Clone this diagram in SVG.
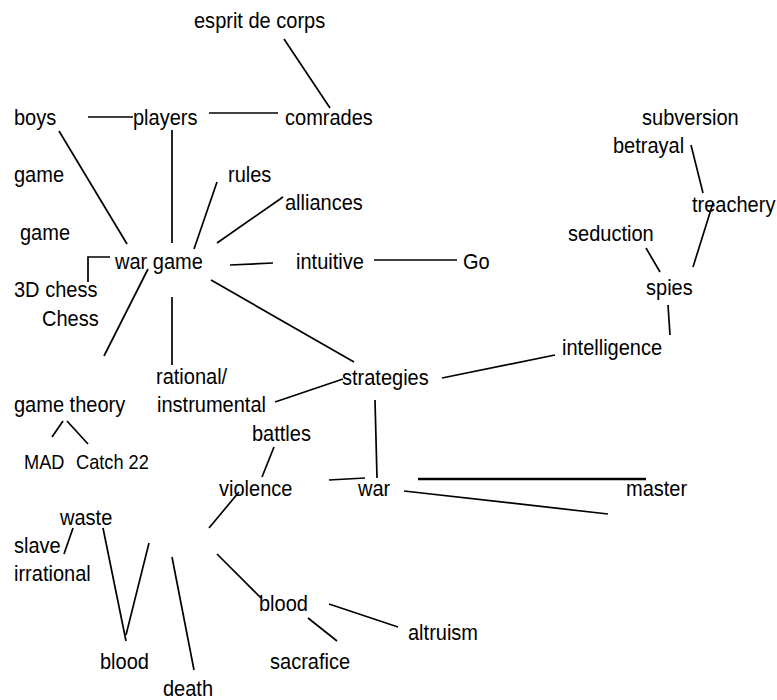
<svg xmlns="http://www.w3.org/2000/svg" width="777" height="700" viewBox="0 0 777 700">
<style>
text{font-family:"Liberation Sans",Arial,sans-serif;font-size:22px;fill:#000}
.s{font-size:20px}
#connectors line,#connectors polyline{stroke:#000;stroke-width:1.7;fill:none}
#connectors .t{stroke-width:2.4}
</style>
<rect width="777" height="700" fill="#fff"/>
<g id="connectors">
<line x1="284" y1="39" x2="330" y2="108"/>
<line x1="88" y1="117" x2="133" y2="117"/>
<line x1="209" y1="113" x2="278" y2="113"/>
<line x1="59" y1="131" x2="127" y2="244"/>
<line x1="172" y1="130" x2="172" y2="243"/>
<line x1="217" y1="182" x2="194" y2="249"/>
<line x1="283" y1="197" x2="217" y2="243"/>
<polyline points="110,257 88,257 88,282"/>
<line x1="230" y1="265" x2="273" y2="263"/>
<line x1="374" y1="260" x2="457" y2="260"/>
<line x1="148" y1="269" x2="104" y2="356"/>
<line x1="172" y1="297" x2="172" y2="365"/>
<line x1="211" y1="280" x2="354" y2="362"/>
<line x1="275" y1="402" x2="343" y2="379"/>
<line x1="442" y1="378" x2="555" y2="355"/>
<line x1="375" y1="400" x2="377" y2="478"/>
<line x1="274" y1="447" x2="262" y2="477"/>
<line x1="329" y1="480" x2="365" y2="478"/>
<line class="t" x1="418" y1="479" x2="646" y2="479"/>
<line x1="404" y1="491" x2="608" y2="514"/>
<line x1="239" y1="492" x2="209" y2="528"/>
<line x1="73" y1="528" x2="64" y2="554"/>
<line x1="103" y1="528" x2="126" y2="641"/>
<line x1="149" y1="543" x2="126" y2="635"/>
<line x1="172" y1="557" x2="194" y2="670"/>
<line x1="217" y1="554" x2="261" y2="598"/>
<line x1="308" y1="618" x2="337" y2="641"/>
<line x1="329" y1="604" x2="398" y2="627"/>
<line x1="63" y1="421" x2="52" y2="437"/>
<line x1="67" y1="421" x2="88" y2="444"/>
<line x1="691" y1="145" x2="703" y2="193"/>
<line x1="713" y1="203" x2="693" y2="267"/>
<line x1="646" y1="248" x2="660" y2="272"/>
<line x1="668" y1="305" x2="670" y2="335"/>
</g>
<g id="n-esprit"><text transform="translate(194,28) scale(0.91,1)">esprit de corps</text></g>
<g id="n-boys"><text transform="translate(14,125) scale(0.91,1)">boys</text></g>
<g id="n-players"><text transform="translate(133,125) scale(0.91,1)">players</text></g>
<g id="n-comrades"><text transform="translate(285,125) scale(0.91,1)">comrades</text></g>
<g id="n-game1"><text transform="translate(14,182) scale(0.91,1)">game</text></g>
<g id="n-rules"><text transform="translate(228,182) scale(0.91,1)">rules</text></g>
<g id="n-alliances"><text transform="translate(285,210) scale(0.91,1)">alliances</text></g>
<g id="n-game2"><text transform="translate(20,240) scale(0.91,1)">game</text></g>
<g id="n-wargame"><text transform="translate(115,269) scale(0.91,1)">war game</text></g>
<g id="n-intuitive"><text transform="translate(296,269) scale(0.91,1)">intuitive</text></g>
<g id="n-go"><text transform="translate(463,269) scale(0.91,1)">Go</text></g>
<g id="n-3dchess"><text transform="translate(14,297) scale(0.91,1)">3D chess</text></g>
<g id="n-chess"><text transform="translate(42,326) scale(0.91,1)">Chess</text></g>
<g id="n-subversion"><text transform="translate(642,125) scale(0.91,1)">subversion</text></g>
<g id="n-betrayal"><text transform="translate(613,153) scale(0.91,1)">betrayal</text></g>
<g id="n-treachery"><text transform="translate(692,212) scale(0.91,1)">treachery</text></g>
<g id="n-seduction"><text transform="translate(568,241) scale(0.91,1)">seduction</text></g>
<g id="n-spies"><text transform="translate(646,295) scale(0.91,1)">spies</text></g>
<g id="n-intelligence"><text transform="translate(562,355) scale(0.91,1)">intelligence</text></g>
<g id="n-strategies"><text transform="translate(342,385) scale(0.91,1)">strategies</text></g>
<g id="n-rational"><text transform="translate(156,384) scale(0.91,1)">rational/</text><text transform="translate(157,412) scale(0.91,1)">instrumental</text></g>
<g id="n-gametheory"><text transform="translate(14,412) scale(0.91,1)">game theory</text></g>
<g id="n-battles"><text transform="translate(252,441) scale(0.91,1)">battles</text></g>
<g id="n-mad"><text class="s" transform="translate(24,469) scale(0.91,1)">MAD</text></g>
<g id="n-catch22"><text class="s" transform="translate(76,469) scale(0.91,1)">Catch 22</text></g>
<g id="n-violence"><text transform="translate(219,496) scale(0.91,1)">violence</text></g>
<g id="n-war"><text transform="translate(358,496) scale(0.91,1)">war</text></g>
<g id="n-master"><text transform="translate(626,496) scale(0.91,1)">master</text></g>
<g id="n-waste"><text transform="translate(60,525) scale(0.91,1)">waste</text></g>
<g id="n-slave"><text transform="translate(14,553) scale(0.91,1)">slave</text></g>
<g id="n-irrational"><text transform="translate(14,581) scale(0.91,1)">irrational</text></g>
<g id="n-blood2"><text transform="translate(259,611) scale(0.91,1)">blood</text></g>
<g id="n-altruism"><text transform="translate(408,640) scale(0.91,1)">altruism</text></g>
<g id="n-blood1"><text transform="translate(100,669) scale(0.91,1)">blood</text></g>
<g id="n-sacrafice"><text transform="translate(270,669) scale(0.91,1)">sacrafice</text></g>
<g id="n-death"><text transform="translate(163,696) scale(0.91,1)">death</text></g>
</svg>
